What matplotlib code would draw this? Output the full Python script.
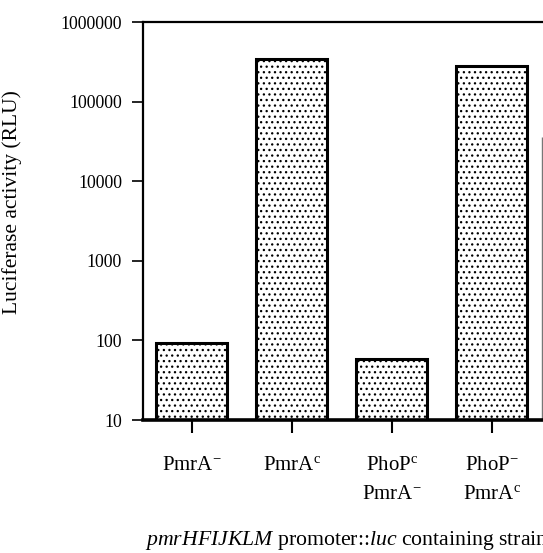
import matplotlib
matplotlib.use("Agg")
import matplotlib.pyplot as plt

plt.rcParams['font.family'] = ['Liberation Serif', 'DejaVu Serif']
plt.rcParams['mathtext.fontset'] = 'custom'
plt.rcParams['mathtext.rm'] = 'Liberation Serif'
plt.rcParams['mathtext.it'] = 'Liberation Serif:italic'
plt.rcParams['hatch.linewidth'] = 0.9
plt.rcParams['hatch.color'] = 'black'

# strains and luciferase values (RLU)
strains = ["PmrA$^{-}$", "PmrA$^{\\mathrm{c}}$",
           "PhoP$^{\\mathrm{c}}$\nPmrA$^{-}$", "PhoP$^{-}$\nPmrA$^{\\mathrm{c}}$"]
activity = [94, 340000, 59, 280000]
# edge of the next (cut off) bar group
cut_edge_x = [3.5]
cut_edge_top = [36000]

yticks = [10, 100, 1000, 10000, 100000, 1000000]
ytick_labels = ["10", "100", "1000", "10000", "100000", "1000000"]

fig = plt.figure(figsize=(5.43, 5.53), dpi=100)
ax = fig.add_axes([0.263, 0.2405, 0.737, 0.7195])

x = list(range(len(strains)))
ax.bar(x, activity, width=0.71, bottom=0, color='white', edgecolor='black',
       linewidth=2.2, hatch='...', zorder=2)
ax.vlines(cut_edge_x, 10, cut_edge_top, color='#777777', linewidth=1.0)

ax.set_yscale('log')
ax.set_ylim(10, 1000000)
ax.set_xlim(-0.49, 3.51)
ax.set_yticks(yticks)
ax.set_yticklabels(ytick_labels)
ax.minorticks_off()
ax.set_xticks(x)
ax.set_xticklabels(strains, linespacing=1.72)

ax.tick_params(axis='y', direction='out', length=8, width=1.2, labelsize=12.8, pad=7)
ax.tick_params(axis='x', direction='out', length=9, width=1.5, labelsize=15, pad=17)
for lab in ax.get_xticklabels():
    lab.set_verticalalignment('top')

ax.spines['right'].set_visible(False)
ax.spines['left'].set_linewidth(1.6)
ax.spines['top'].set_linewidth(1.6)
ax.spines['bottom'].set_linewidth(2.6)

ax.set_ylabel("Luciferase activity (RLU)", fontsize=15.5)
ax.yaxis.set_label_coords(-0.303, 0.548)

fig.text(145 / 543, 1 - 540 / 553, "$pmrHFIJKLM$ promoter::$luc$ containing strains",
         fontsize=15.7, ha='left', va='center')

fig.savefig("out.png", dpi=100)
